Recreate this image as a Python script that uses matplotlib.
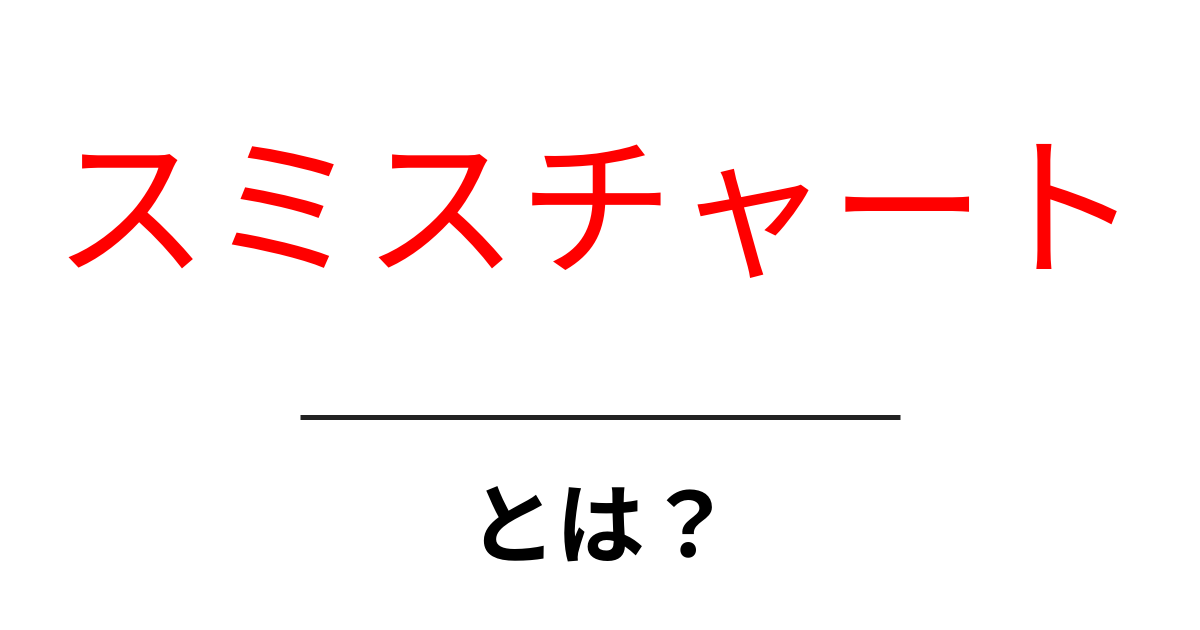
import matplotlib
matplotlib.use("Agg")
import matplotlib.pyplot as plt

plt.rcParams['font.family'] = ['Noto Sans CJK JP', 'DejaVu Sans']

TITLE = "スミスチャート"
SUBTITLE = "とは？"
RULE_X = [300, 900]   # pixels
RULE_Y = [417, 417]

W, H = 1200, 630

fig = plt.figure(figsize=(W / 100, H / 100), dpi=100)
ax = fig.add_axes([0, 0, 1, 1])
ax.set_xlim(0, W)
ax.set_ylim(H, 0)
ax.axis('off')

ax.text(W / 2 - 3, 220, TITLE, color='#ff0000', fontsize=112,
        ha='center', va='center', fontweight='normal')
ax.plot(RULE_X, RULE_Y, color='#222222', linewidth=3.6, solid_capstyle='butt')
ax.text(W / 2, 532, SUBTITLE, color='#000000', fontsize=64,
        ha='center', va='center', fontweight='bold')

fig.savefig('out.png', dpi=100, facecolor='white')
